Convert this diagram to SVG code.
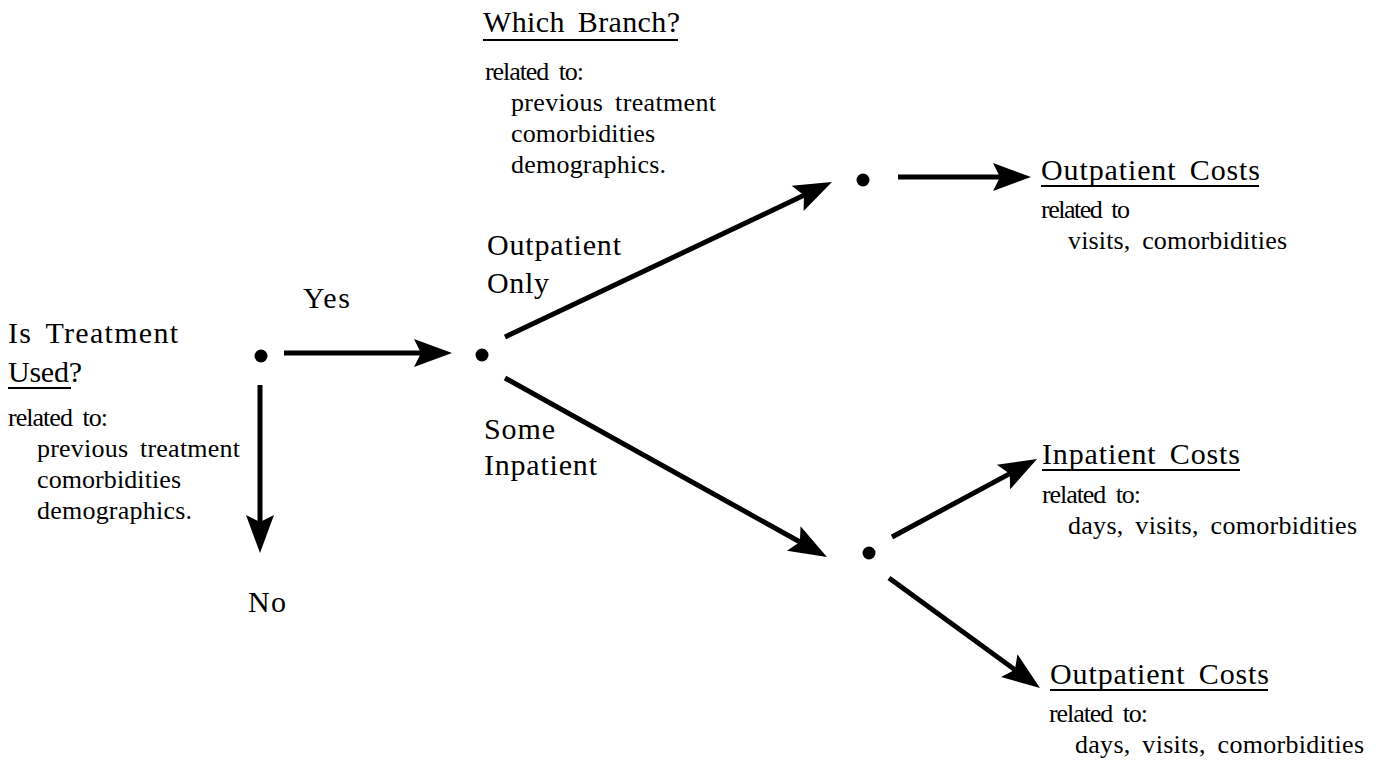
<svg xmlns="http://www.w3.org/2000/svg" width="1380" height="764" viewBox="0 0 1380 764">
<style>
text{font-family:"Liberation Serif","Times New Roman",serif;fill:#000;word-spacing:5px}
.lg{font-size:30px}
.sm{font-size:26px}
.ul{stroke:#000;stroke-width:2}
.cn{stroke:#000;stroke-width:5;fill:none;marker-end:url(#ah)}
.dot{fill:#000}
</style>
<defs>
<marker id="ah" markerUnits="userSpaceOnUse" markerWidth="40" markerHeight="30" refX="18" refY="14" orient="auto" overflow="visible">
<path d="M0,0 L38,14 L0,28 L7,14 Z" fill="#000"/>
</marker>
</defs>
<rect width="1380" height="764" fill="#fff"/>
<g id="connectors">
<line class="cn" x1="284" y1="353" x2="432" y2="353"/>
<line class="cn" x1="260" y1="385" x2="260" y2="533"/>
<line class="cn" x1="505" y1="337" x2="813.9" y2="190.6"/>
<line class="cn" x1="505" y1="378" x2="809.5" y2="547.3"/>
<line class="cn" x1="898" y1="177" x2="1011" y2="177"/>
<line class="cn" x1="892" y1="537" x2="1019.4" y2="468.5"/>
<line class="cn" x1="889" y1="578" x2="1023.8" y2="676.2"/>
</g>
<g id="treatment-decision">
<text class="lg" x="8" y="343" textLength="170" lengthAdjust="spacing">Is Treatment</text>
<text class="lg" x="8" y="382" textLength="74" lengthAdjust="spacing">Used?</text>
<line class="ul" x1="8" y1="388" x2="71" y2="388"/>
<text class="sm" x="8" y="426" textLength="100" lengthAdjust="spacing">related to:</text>
<text class="sm" x="37" y="457" textLength="203" lengthAdjust="spacing">previous treatment</text>
<text class="sm" x="37" y="488" textLength="144" lengthAdjust="spacing">comorbidities</text>
<text class="sm" x="37" y="519" textLength="155" lengthAdjust="spacing">demographics.</text>
</g>
<g id="node-treatment"><circle class="dot" cx="261" cy="356" r="6.5"/></g>
<g id="label-yes"><text class="lg" x="303" y="308" textLength="47" lengthAdjust="spacing">Yes</text></g>
<g id="label-no"><text class="lg" x="248" y="612" textLength="38" lengthAdjust="spacing">No</text></g>
<g id="node-branch"><circle class="dot" cx="482" cy="355" r="6.5"/></g>
<g id="branch-decision">
<text class="lg" x="483" y="32" textLength="197" lengthAdjust="spacing">Which Branch?</text>
<line class="ul" x1="483" y1="40" x2="678" y2="40"/>
<text class="sm" x="485" y="80" textLength="99" lengthAdjust="spacing">related to:</text>
<text class="sm" x="511" y="111" textLength="205" lengthAdjust="spacing">previous treatment</text>
<text class="sm" x="511" y="142" textLength="144" lengthAdjust="spacing">comorbidities</text>
<text class="sm" x="511" y="173" textLength="155" lengthAdjust="spacing">demographics.</text>
</g>
<g id="label-outpatient-only">
<text class="lg" x="487" y="255" textLength="134" lengthAdjust="spacing">Outpatient</text>
<text class="lg" x="487" y="293" textLength="62" lengthAdjust="spacing">Only</text>
</g>
<g id="label-some-inpatient">
<text class="lg" x="484" y="439" textLength="71" lengthAdjust="spacing">Some</text>
<text class="lg" x="484" y="475" textLength="113" lengthAdjust="spacing">Inpatient</text>
</g>
<g id="node-outpatient"><circle class="dot" cx="863" cy="180" r="6.5"/></g>
<g id="node-inpatient"><circle class="dot" cx="869" cy="553" r="6.5"/></g>
<g id="outpatient-costs-1">
<text class="lg" x="1041" y="180" textLength="219" lengthAdjust="spacing">Outpatient Costs</text>
<line class="ul" x1="1041" y1="186" x2="1259" y2="186"/>
<text class="sm" x="1041" y="218" textLength="89" lengthAdjust="spacing">related to</text>
<text class="sm" x="1068" y="249" textLength="219" lengthAdjust="spacing">visits, comorbidities</text>
</g>
<g id="inpatient-costs">
<text class="lg" x="1042" y="464" textLength="198" lengthAdjust="spacing">Inpatient Costs</text>
<line class="ul" x1="1042" y1="470" x2="1240" y2="470"/>
<text class="sm" x="1042" y="503" textLength="99" lengthAdjust="spacing">related to:</text>
<text class="sm" x="1068" y="534" textLength="289" lengthAdjust="spacing">days, visits, comorbidities</text>
</g>
<g id="outpatient-costs-2">
<text class="lg" x="1050" y="684" textLength="219" lengthAdjust="spacing">Outpatient Costs</text>
<line class="ul" x1="1050" y1="690" x2="1268" y2="690"/>
<text class="sm" x="1049" y="722" textLength="99" lengthAdjust="spacing">related to:</text>
<text class="sm" x="1075" y="753" textLength="289" lengthAdjust="spacing">days, visits, comorbidities</text>
</g>
</svg>
